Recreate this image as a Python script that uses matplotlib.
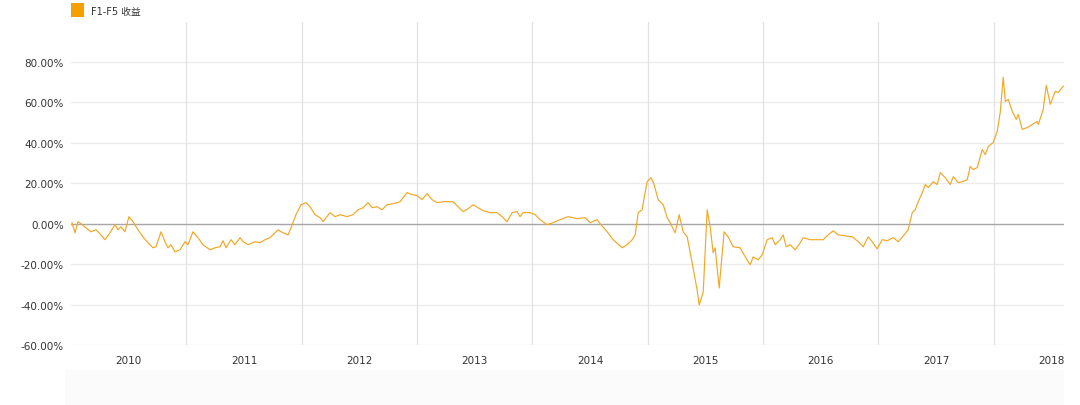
import matplotlib
matplotlib.use("Agg")
import matplotlib.pyplot as plt
from matplotlib.patches import Rectangle

plt.rcParams['font.family'] = ['DejaVu Sans', 'Noto Sans CJK SC']

# time in decimal years, return in percent
t = [2010.009, 2010.035, 2010.061, 2010.087, 2010.130, 2010.173, 2010.217, 2010.260,
     2010.295, 2010.338, 2010.382, 2010.408, 2010.434, 2010.468, 2010.503, 2010.538,
     2010.581, 2010.624, 2010.668, 2010.711, 2010.737, 2010.781, 2010.815, 2010.841,
     2010.867, 2010.902, 2010.945, 2010.989, 2011.015, 2011.058, 2011.101, 2011.145,
     2011.206, 2011.249, 2011.292, 2011.318, 2011.344, 2011.388, 2011.422, 2011.466,
     2011.492, 2011.535, 2011.596, 2011.639, 2011.683, 2011.726, 2011.769, 2011.795,
     2011.839, 2011.882, 2011.908, 2011.951, 2011.995, 2012.038, 2012.073, 2012.116,
     2012.160, 2012.186, 2012.220, 2012.246, 2012.290, 2012.333, 2012.394, 2012.446,
     2012.489, 2012.533, 2012.576, 2012.611, 2012.654, 2012.697, 2012.741, 2012.793,
     2012.853, 2012.914, 2012.957, 2013.001, 2013.044, 2013.088, 2013.131, 2013.174,
     2013.226, 2013.313, 2013.356, 2013.400, 2013.443, 2013.487, 2013.530, 2013.573,
     2013.634, 2013.695, 2013.738, 2013.781, 2013.825, 2013.868, 2013.894, 2013.920,
     2013.981, 2014.024, 2014.068, 2014.128, 2014.180, 2014.241, 2014.310, 2014.389,
     2014.458, 2014.501, 2014.562, 2014.588, 2014.649, 2014.701, 2014.779, 2014.822,
     2014.866, 2014.892, 2014.918, 2014.952, 2014.970, 2014.996, 2015.030, 2015.056,
     2015.091, 2015.135, 2015.169, 2015.195, 2015.238, 2015.273, 2015.308, 2015.343,
     2015.386, 2015.429, 2015.447, 2015.482, 2015.516, 2015.542, 2015.568, 2015.585,
     2015.620, 2015.663, 2015.698, 2015.742, 2015.802, 2015.846, 2015.889, 2015.915,
     2015.958, 2015.993, 2016.036, 2016.080, 2016.106, 2016.149, 2016.175, 2016.201,
     2016.236, 2016.279, 2016.323, 2016.349, 2016.409, 2016.470, 2016.522, 2016.565,
     2016.609, 2016.652, 2016.713, 2016.774, 2016.826, 2016.869, 2016.912, 2016.947,
     2016.990, 2017.034, 2017.077, 2017.129, 2017.173, 2017.216, 2017.259, 2017.294,
     2017.320, 2017.346, 2017.381, 2017.407, 2017.433, 2017.476, 2017.511, 2017.537,
     2017.580, 2017.624, 2017.650, 2017.693, 2017.728, 2017.771, 2017.797, 2017.823,
     2017.858, 2017.901, 2017.927, 2017.953, 2017.996, 2018.031, 2018.057, 2018.083,
     2018.101, 2018.127, 2018.161, 2018.196, 2018.213, 2018.248, 2018.291, 2018.335,
     2018.378, 2018.387, 2018.430, 2018.456, 2018.491, 2018.534, 2018.560, 2018.604]

ret = [0.5, -4.5, 1.0, 0.0, -2.0, -4.0, -3.0, -5.5,
       -7.9, -4.5, -0.5, -3.0, -1.5, -4.0, 3.5, 1.0,
       -3.0, -6.5, -9.4, -11.9, -11.4, -4.0, -8.9, -11.9,
       -10.4, -13.9, -12.9, -8.9, -10.4, -4.0, -6.9, -10.4,
       -12.9, -11.9, -11.4, -8.4, -11.9, -7.9, -10.4, -6.9,
       -8.9, -10.4, -8.9, -9.4, -7.9, -6.9, -4.5, -3.0,
       -4.5, -5.5, -2.0, 4.5, 9.4, 10.4, 8.4, 4.5,
       3.0, 1.0, 3.5, 5.5, 3.5, 4.5, 3.5, 4.5,
       6.9, 7.9, 10.4, 7.9, 8.4, 6.9, 9.4, 9.9,
       10.9, 15.4, 14.4, 13.9, 11.9, 14.9, 11.9, 10.4,
       10.9, 10.9, 8.4, 6.0, 7.4, 9.4, 7.9, 6.5,
       5.5, 5.5, 3.5, 1.0, 5.5, 6.0, 3.5, 5.5,
       5.5, 4.5, 2.0, -0.5, 0.5, 2.0, 3.5, 2.5,
       3.0, 0.5, 2.0, 0.0, -4.0, -7.9, -11.9, -10.4,
       -7.9, -5.5, 5.5, 6.9, 12.9, 20.8, 22.8, 19.4,
       11.9, 9.4, 3.0, 0.5, -4.5, 4.5, -4.0, -6.5,
       -19.4, -32.8, -40.2, -33.7, 6.9, -1.5, -14.4, -11.9,
       -31.8, -4.0, -6.5, -11.4, -11.9, -16.4, -20.3, -16.4,
       -17.9, -15.4, -7.9, -6.9, -10.4, -7.9, -5.5, -11.4,
       -10.4, -12.9, -9.4, -6.9, -7.9, -7.9, -7.9, -5.5,
       -3.5, -5.5, -6.0, -6.5, -8.9, -11.4, -6.5, -8.9,
       -12.4, -7.9, -8.4, -6.9, -8.9, -6.0, -3.0, 5.5,
       6.9, 10.9, 15.4, 19.4, 17.9, 20.8, 19.4, 25.3,
       22.8, 19.4, 23.3, 20.3, 20.8, 21.8, 28.3, 26.8,
       27.8, 36.7, 34.2, 38.2, 40.2, 45.7, 55.1, 72.5,
       60.5, 61.5, 55.6, 51.6, 54.1, 46.7, 47.6, 49.1,
       50.6, 49.1, 56.6, 68.5, 59.1, 65.5, 65.0, 68.0]

years = [2010, 2011, 2012, 2013, 2014, 2015, 2016, 2017, 2018]
yticks = [-60, -40, -20, 0, 20, 40, 60, 80]
series_name = "F1-F5 收益"
line_color = "#f5a623"

fig = plt.figure(figsize=(10.8, 4.06), dpi=100)
ax = fig.add_axes([0.0657, 0.1478, 0.9195, 0.7965])

# faint navigator band at the bottom
fig.patches.append(Rectangle((0.06, 0.0), 0.925, 0.085, transform=fig.transFigure,
                             facecolor="#fcfbfc", edgecolor="none", zorder=0))

for y in yticks:
    if y != 0:
        ax.axhline(y, color="#ebebeb", lw=0.9, zorder=1)
ax.axhline(0, color="#a6a6a6", lw=1.0, zorder=2)
for yr in years[1:]:
    ax.axvline(yr, color="#e2e2e2", lw=0.9, zorder=1)

ax.plot(t, ret, color=line_color, lw=0.85, zorder=3)

ax.set_xlim(2010.0, 2018.61)
ax.set_ylim(-60, 100)
ax.set_yticks(yticks)
ax.set_yticklabels([f"{v:.2f}%" for v in yticks])
ax.set_xticks([yr + 0.5 for yr in years])
ax.set_xticklabels([str(yr) for yr in years])
ax.tick_params(length=0, labelsize=7.5, colors="#333333", pad=7)
ax.tick_params(axis="y", pad=5)
for s in ax.spines.values():
    s.set_visible(False)

# legend
fig.patches.append(Rectangle((71 / 1080, 1 - 18 / 406), 13 / 1080, 14 / 406,
                             transform=fig.transFigure, facecolor="#f5a000",
                             edgecolor="none"))
fig.text(91 / 1080, 1 - 12 / 406, series_name, fontsize=7, color="#333333",
         va="center", ha="left")

fig.savefig("out.png", dpi=100, facecolor="white")
